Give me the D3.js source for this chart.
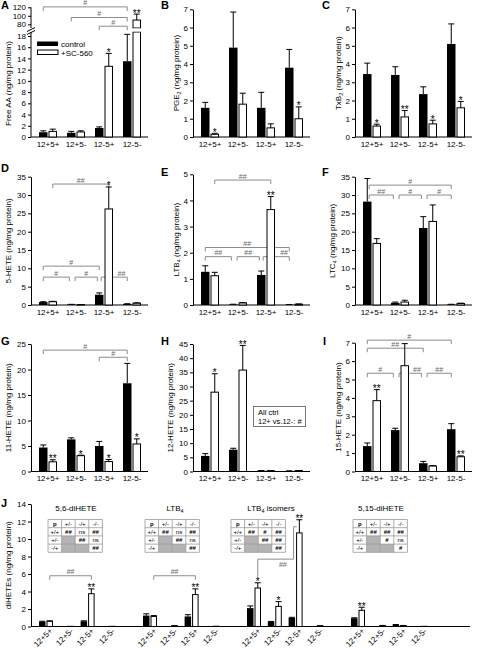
<!DOCTYPE html>
<html><head><meta charset="utf-8">
<script src="https://cdn.jsdelivr.net/npm/d3@7"></script>
<style>
body{margin:0;background:#fff}
text{font-family:"Liberation Sans",Arial,Helvetica,sans-serif}
</style>
</head><body>
<svg id="c" width="477" height="648"></svg>
<script>
// ---------------- DATA ----------------
const categories = ["12+5+", "12+5-", "12-5+", "12-5-"];
const seriesLabels = ["control", "+SC-560"];

// A: Free AA (broken axis)
const aaCtrl = [0.85, 0.75, 1.6, 13.5];
const aaCtrlSem = [0.25, 0.25, 0.2, 4.8];
const aaSc = [1.0, 0.9, 12.6, 90];
const aaScSem = [0.4, 0.2, 2.3, 14];
const aaStars = ["", "", "*", "**"];
const aaLowTicks = [0, 2, 4, 6, 8, 10, 12, 14, 16, 18];
const aaHighTicks = [80, 100, 120];
const aaBrackets = [
  {a: [0, -0.5], b: [3, -0.5], v: 121, l: "#"},
  {a: [1, -0.5], b: [3, -0.5], v: 96, l: "#"},
  {a: [2, -0.5], b: [3, -0.5], v: 75.5, l: "#"}
];

// B: PGE2
const pgeCtrl = [1.6, 4.9, 1.6, 3.8];
const pgeCtrlSem = [0.3, 1.95, 0.85, 1.0];
const pgeSc = [0.15, 1.8, 0.5, 1.0];
const pgeScSem = [0.05, 0.6, 0.22, 0.65];
const pgeStars = ["*", "", "", "*"];
const pgeTicks = [0, 1, 2, 3, 4, 5, 6, 7];

// C: TxB2
const txbCtrl = [3.45, 3.4, 2.35, 5.1];
const txbCtrlSem = [0.6, 0.45, 0.4, 1.1];
const txbSc = [0.6, 1.1, 0.72, 1.6];
const txbScSem = [0.1, 0.35, 0.2, 0.35];
const txbStars = ["*", "**", "*", "*"];
const txbTicks = [0, 1, 2, 3, 4, 5, 6, 7];

// D: 5-HETE
const hete5Ctrl = [0.8, 0.15, 2.8, 0.3];
const hete5CtrlSem = [0.1, 0.03, 0.5, 0.05];
const hete5Sc = [0.9, 0.1, 26.2, 0.5];
const hete5ScSem = [0.1, 0.03, 6.0, 0.1];
const hete5Stars = ["", "", "*", ""];
const hete5Ticks = [0, 5, 10, 15, 20, 25, 30, 35];
const hete5Brackets = [
  {a: [0, 0.5], b: [2, 0.5], v: 33, l: "##"},
  {a: [0, -0.5], b: [2, -0.5], v: 10.6, l: "#"},
  {a: [0, -0.5], b: [1, -0.7], v: 7.6, l: "#"},
  {a: [1, -0.1], b: [2, -0.7], v: 7.6, l: "#"},
  {a: [2, -0.3], b: [3, -0.5], v: 7.6, l: "##", t: 0.78}
];

// E: LTB4
const ltb4Ctrl = [1.27, 0.02, 1.15, 0.01];
const ltb4CtrlSem = [0.23, 0.01, 0.15, 0.01];
const ltb4Sc = [1.12, 0.08, 3.65, 0.03];
const ltb4ScSem = [0.13, 0.01, 0.5, 0.01];
const ltb4Stars = ["", "", "**", ""];
const ltb4Ticks = [0, 1, 2, 3, 4, 5];
const ltb4Brackets = [
  {a: [0, 0.5], b: [2, 0.5], v: 4.78, l: "##"},
  {a: [0, -0.5], b: [3, -0.5], v: 2.2, l: "##"},
  {a: [0, -0.5], b: [1, -0.7], v: 1.85, l: "##"},
  {a: [1, -0.1], b: [2, -0.7], v: 1.85, l: "##"},
  {a: [2, -0.3], b: [3, -0.5], v: 1.85, l: "##", t: 0.8}
];

// F: LTC4
const ltc4Ctrl = [28.2, 0.6, 21, 0.15];
const ltc4CtrlSem = [6.3, 0.2, 3.1, 0.05];
const ltc4Sc = [16.8, 0.8, 22.8, 0.4];
const ltc4ScSem = [1.3, 0.5, 4.5, 0.1];
const ltc4Stars = ["", "", "", ""];
const ltc4Ticks = [0, 5, 10, 15, 20, 25, 30, 35];
const ltc4Brackets = [
  {a: [0, -0.3], b: [3, -0.5], v: 32.7, l: "#"},
  {a: [0, -0.3], b: [1, -0.7], v: 30, l: "##"},
  {a: [1, -0.1], b: [2, -0.7], v: 30, l: "#"},
  {a: [2, -0.1], b: [3, -0.5], v: 30, l: "#"}
];

// G: 11-HETE
const hete11Ctrl = [4.7, 6.3, 5.0, 17.3];
const hete11CtrlSem = [0.5, 0.3, 0.9, 3.9];
const hete11Sc = [1.9, 3.1, 1.95, 5.4];
const hete11ScSem = [0.4, 0.1, 0.4, 1.0];
const hete11Stars = ["**", "*", "*", "*"];
const hete11Ticks = [0, 5, 10, 15, 20, 25];
const hete11Brackets = [
  {a: [0, -0.5], b: [3, -0.5], v: 23.8, l: "#"},
  {a: [2, -0.5], b: [3, -0.5], v: 22.4, l: "#"}
];

// H: 12-HETE
const hete12Ctrl = [5.5, 7.7, 0.3, 0.2];
const hete12CtrlSem = [0.8, 0.5, 0.05, 0.05];
const hete12Sc = [28, 35.8, 0.25, 0.3];
const hete12ScSem = [6.5, 8.7, 0.05, 0.05];
const hete12Stars = ["*", "**", "", ""];
const hete12Ticks = [0, 5, 10, 15, 20, 25, 30, 35, 40, 45];
const hete12Note = ["All ctrl", "12+ vs.12-: #"];

// I: 15-HETE
const hete15Ctrl = [1.38, 2.25, 0.45, 2.3];
const hete15CtrlSem = [0.17, 0.1, 0.1, 0.3];
const hete15Sc = [3.85, 5.75, 0.3, 0.8];
const hete15ScSem = [0.6, 1.2, 0.02, 0.05];
const hete15Stars = ["**", "", "", "**"];
const hete15Ticks = [0, 1, 2, 3, 4, 5, 6, 7];
const hete15Brackets = [
  {a: [0, -0.5], b: [3, -0.5], v: 7.14, l: "#"},
  {a: [0, -0.5], b: [2, -0.5], v: 6.7, l: "##"},
  {a: [0, -0.5], b: [1, -0.7], v: 5.34, l: "#"},
  {a: [1, -0.1], b: [2, -0.7], v: 5.34, l: "##", t: 0.8},
  {a: [2, -0.1], b: [3, -0.5], v: 5.34, l: "##"}
];

// J: diHETEs
const diGroups = ["5,6-diHETE", "LTB4", "LTB4 isomers", "5,15-diHETE"];
const diCtrl = [[0.55, 0.02, 0.6, 0.02], [1.25, 0.02, 1.15, 0.02], [2.1, 0.55, 1.0, 0.05], [0.95, 0.05, 0.2, 0.02]];
const diCtrlSem = [[0.05, 0, 0.05, 0], [0.2, 0, 0.2, 0], [0.25, 0.03, 0.05, 0], [0.05, 0, 0.03, 0]];
const diSc = [[0.6, 0.02, 3.75, 0.02], [1.15, 0.08, 3.65, 0.03], [4.4, 2.3, 10.7, 0.1], [1.85, 0.1, 0.1, 0.02]];
const diScSem = [[0.05, 0, 0.55, 0], [0.1, 0.01, 0.65, 0], [0.6, 0.55, 1.5, 0], [0.35, 0.02, 0.02, 0]];
const diStars = [["", "", "**", ""], ["", "", "**", ""], ["*", "*", "**", ""], ["**", "", "", ""]];
const diTicks = [0, 2, 4, 6, 8, 10, 12, 14];
const pTableHeader = ["p", "+/-", "-/+", "-/-"];
const pTableRows = ["+/+", "+/-", "-/+"];
const pTables = [
  [["##", "ns", "##"], [null, "##", "ns"], [null, null, "##"]],
  [["##", "ns", "##"], [null, "##", "ns"], [null, null, "##"]],
  [["##", "#", "##"], [null, "##", "##"], [null, null, "##"]],
  [["##", "##", "##"], [null, "#", "ns"], [null, null, "#"]]
];
const diBrackets = [
  {g: 0, a: [0, 0.5], b: [2, 0.5], v: 5.8, l: "##"},
  {g: 1, a: [0, 0.5], b: [2, 0.5], v: 5.8, l: "##"}
];

// ---------------- DRAWING ----------------
const svg = d3.select("#c");
const BR = "#8c8c8c";
const BRT = "#666";
const fmt = d3.format("d");

function letter(t, x, y) {
  svg.append("text").attr("x", x).attr("y", y).attr("font-size", 11).attr("font-weight", "bold").text(t);
}
function yTitle(g, x, yc, parts) {
  const t = g.append("text")
    .attr("transform", `translate(${x},${yc}) rotate(-90)`)
    .attr("text-anchor", "middle").attr("font-size", 8);
  let sub = false;
  parts.forEach(p => {
    const isSub = Array.isArray(p);
    const s = t.append("tspan").text(isSub ? p[0] : p);
    if (isSub) s.attr("font-size", 5.5).attr("dy", 1.8);
    else if (sub) s.attr("dy", -1.8);
    sub = isSub;
  });
}
function styleAxis(sel) {
  sel.selectAll("path,line").attr("stroke", "#000").attr("stroke-width", 1);
  sel.selectAll("text").attr("font-size", 8).attr("fill", "#000");
}
function bracket(g, x1, x2, y, label, t) {
  g.append("path").attr("d", `M${x1},${y + 4}V${y}H${x2}V${y + 4}`)
    .attr("fill", "none").attr("stroke", BR).attr("stroke-width", 1);
  g.append("text").attr("x", x1 + (x2 - x1) * (t == null ? 0.5 : t)).attr("y", y - 1.5)
    .attr("text-anchor", "middle").attr("font-size", 7).attr("fill", BRT).text(label);
}
function drawBars(g, cxs, y, base, ctrl, ctrlSem, sc, scSem, stars, bw, skipIdx) {
  const half = bw + 0.5;
  ctrl.forEach((v, i) => {
    const c = cxs[i];
    g.append("rect").attr("x", c - half).attr("y", y(v)).attr("width", bw).attr("height", base - y(v)).attr("fill", "#000");
    if (ctrlSem[i] > 0) {
      const xc = c - half + bw / 2, yt = y(v + ctrlSem[i]);
      g.append("path").attr("d", `M${xc},${y(v)}V${yt}M${xc - 3},${yt}H${xc + 3}`).attr("stroke", "#000").attr("fill", "none");
    }
  });
  sc.forEach((v, i) => {
    if (skipIdx === i) return;
    const c = cxs[i];
    g.append("rect").attr("x", c + 1).attr("y", y(v)).attr("width", bw - 1).attr("height", base - y(v))
      .attr("fill", "#fff").attr("stroke", "#000").attr("stroke-width", 1);
    const xc = c + 0.5 + bw / 2, yt = y(v + scSem[i]);
    if (scSem[i] > 0)
      g.append("path").attr("d", `M${xc},${y(v)}V${yt}M${xc - 3},${yt}H${xc + 3}`).attr("stroke", "#000").attr("fill", "none");
    if (stars[i]) g.append("text").attr("x", xc).attr("y", yt + 2.5).attr("text-anchor", "middle").attr("font-size", 10).attr("fill", "#000").text(stars[i]);
  });
}

const BW = 8.5;
function panel(o) {
  const g = svg.append("g");
  const x = d3.scaleBand().domain(categories).range([o.ax + 3, o.ax + 115]);
  const cxs = categories.map(c => x(c) + x.bandwidth() / 2);
  const y = o.y || d3.scaleLinear().domain([0, o.max]).range([o.base, o.top]);
  const bx = (ab) => cxs[ab[0]] + ab[1] * 9.5;
  if (!o.customAxis) {
    const ax = g.append("g").attr("transform", `translate(${o.ax},0)`)
      .call(d3.axisLeft(y).tickValues(o.ticks).tickFormat(fmt).tickSize(3).tickPadding(2).tickSizeOuter(0));
    styleAxis(ax);
  } else o.customAxis(g);
  g.append("line").attr("x1", o.ax).attr("x2", o.ax + 117).attr("y1", o.base).attr("y2", o.base).attr("stroke", "#000");
  categories.forEach((c, i) => g.append("text").attr("x", cxs[i]).attr("y", o.base + 9.5)
    .attr("text-anchor", "middle").attr("font-size", 8).text(c));
  yTitle(g, o.ax - o.tdx, (o.base + (o.titleTop || o.top)) / 2, o.title);
  (o.brackets || []).forEach(b => bracket(g, bx(b.a), bx(b.b), y(b.v), b.l, b.t));
  drawBars(g, cxs, y, o.base, o.ctrl, o.ctrlSem, o.sc, o.scSem, o.stars, BW, o.skip);
  return {g, cxs, y};
}

// ---- A ----
letter("A", 1, 9);
const aLow = d3.scaleLinear().domain([0, 18]).range([137, 36]);
const aHigh = d3.scaleLinear().domain([80, 120]).range([24.3, 7.3]);
const yA = v => v <= 19 ? aLow(v) : aHigh(v);
const A = panel({
  ax: 31, base: 137, top: 36, y: yA, tdx: 20, titleTop: 30,
  title: ["Free AA (ng/mg protein)"],
  ctrl: aaCtrl, ctrlSem: aaCtrlSem, sc: aaSc, scSem: aaScSem, stars: aaStars, brackets: aaBrackets, skip: 3,
  customAxis: g => {
    const a1 = g.append("g").attr("transform", "translate(31,0)")
      .call(d3.axisLeft(aLow).tickValues(aaLowTicks).tickFormat(fmt).tickSize(3).tickPadding(2).tickSizeOuter(0));
    a1.select(".domain").attr("d", `M0,137V32`);
    styleAxis(a1);
    const a2 = g.append("g").attr("transform", "translate(31,0)")
      .call(d3.axisLeft(aHigh).tickValues(aaHighTicks).tickFormat(fmt).tickSize(3).tickPadding(2).tickSizeOuter(0));
    a2.select(".domain").attr("d", `M0,28V7.3`);
    styleAxis(a2);
    g.append("path").attr("d", "M27,31.5L35,27.5M27,34.5L35,30.5").attr("stroke", "#000").attr("fill", "none");
  }
});
{
  const c = A.cxs[3], v = aaSc[3], yt = aHigh(v + aaScSem[3]);
  A.g.append("rect").attr("x", c + 1).attr("y", 32).attr("width", BW - 1).attr("height", 137 - 32).attr("fill", "#fff").attr("stroke", "#000");
  A.g.append("rect").attr("x", c + 1).attr("y", aHigh(v)).attr("width", BW - 1).attr("height", 28 - aHigh(v)).attr("fill", "#fff").attr("stroke", "#000");
  A.g.append("rect").attr("x", c + 0.5).attr("y", 28.5).attr("width", BW).attr("height", 3).attr("fill", "#fff");
  const xc = c + 0.5 + BW / 2;
  A.g.append("path").attr("d", `M${xc},${aHigh(v)}V${yt}M${xc - 3},${yt}H${xc + 3}`).attr("stroke", "#000").attr("fill", "none");
  A.g.append("text").attr("x", xc).attr("y", yt + 2.5).attr("text-anchor", "middle").attr("font-size", 10).text(aaStars[3]);
  const lg = A.g.append("g");
  lg.append("rect").attr("x", 37).attr("y", 41.5).attr("width", 21).attr("height", 4.5).attr("fill", "#000");
  lg.append("rect").attr("x", 37.5).attr("y", 50).attr("width", 20.5).attr("height", 4.5).attr("fill", "#fff").attr("stroke", "#000");
  lg.append("text").attr("x", 61).attr("y", 46.5).attr("font-size", 8).text(seriesLabels[0]);
  lg.append("text").attr("x", 61).attr("y", 55.5).attr("font-size", 8).text(seriesLabels[1]);
}

// ---- B ----
letter("B", 161, 9);
panel({ax: 193, base: 137, top: 9.3, max: 7, ticks: pgeTicks, tdx: 14, title: ["PGE", ["2"], " (ng/mg protein)"],
  ctrl: pgeCtrl, ctrlSem: pgeCtrlSem, sc: pgeSc, scSem: pgeScSem, stars: pgeStars});
// ---- C ----
letter("C", 322, 9);
panel({ax: 355, base: 137, top: 9.3, max: 7, ticks: txbTicks, tdx: 14, title: ["TxB", ["2"], " (ng/mg protein)"],
  ctrl: txbCtrl, ctrlSem: txbCtrlSem, sc: txbSc, scSem: txbScSem, stars: txbStars});
// ---- D ----
letter("D", 1, 172);
panel({ax: 31, base: 305, top: 176.7, max: 35, ticks: hete5Ticks, tdx: 20, title: ["5-HETE (ng/mg protein)"],
  ctrl: hete5Ctrl, ctrlSem: hete5CtrlSem, sc: hete5Sc, scSem: hete5ScSem, stars: hete5Stars, brackets: hete5Brackets});
// ---- E ----
letter("E", 161, 176);
panel({ax: 193, base: 305, top: 174.3, max: 5, ticks: ltb4Ticks, tdx: 14, title: ["LTB", ["4"], " (ng/mg protein)"],
  ctrl: ltb4Ctrl, ctrlSem: ltb4CtrlSem, sc: ltb4Sc, scSem: ltb4ScSem, stars: ltb4Stars, brackets: ltb4Brackets});
// ---- F ----
letter("F", 322, 176);
panel({ax: 355, base: 305, top: 176.7, max: 35, ticks: ltc4Ticks, tdx: 20, title: ["LTC", ["4"], " (ng/mg protein)"],
  ctrl: ltc4Ctrl, ctrlSem: ltc4CtrlSem, sc: ltc4Sc, scSem: ltc4ScSem, stars: ltc4Stars, brackets: ltc4Brackets});
// ---- G ----
letter("G", 1, 345);
panel({ax: 31, base: 471.5, top: 344, max: 25, ticks: hete11Ticks, tdx: 20, title: ["11-HETE (ng/mg protein)"],
  ctrl: hete11Ctrl, ctrlSem: hete11CtrlSem, sc: hete11Sc, scSem: hete11ScSem, stars: hete11Stars, brackets: hete11Brackets});
// ---- H ----
letter("H", 161, 345);
const H = panel({ax: 193, base: 471.5, top: 344, max: 45, ticks: hete12Ticks, tdx: 20, title: ["12-HETE (ng/mg protein)"],
  ctrl: hete12Ctrl, ctrlSem: hete12CtrlSem, sc: hete12Sc, scSem: hete12ScSem, stars: hete12Stars});
H.g.append("rect").attr("x", 253.5).attr("y", 406.5).attr("width", 52).attr("height", 20).attr("fill", "#fff").attr("stroke", "#777");
H.g.append("text").attr("x", 258).attr("y", 415).attr("font-size", 7.5).text(hete12Note[0]);
H.g.append("text").attr("x", 258).attr("y", 423.5).attr("font-size", 7.5).text(hete12Note[1]);
// ---- I ----
letter("I", 323, 345);
panel({ax: 355, base: 471.5, top: 342.7, max: 7, ticks: hete15Ticks, tdx: 14, title: ["15-HETE (ng/mg protein)"],
  ctrl: hete15Ctrl, ctrlSem: hete15CtrlSem, sc: hete15Sc, scSem: hete15ScSem, stars: hete15Stars, brackets: hete15Brackets});

// ---- J ----
letter("J", 1, 507);
{
  const g = svg.append("g");
  const base = 626.5;
  const y = d3.scaleLinear().domain([0, 14]).range([base, 504]);
  const slots = d3.range(20);
  const x = d3.scaleBand().domain(slots).range([35.6, 451.6]);
  const cx = (gi, ci) => x(gi * 5 + ci) + x.bandwidth() / 2;
  const ax = g.append("g").attr("transform", "translate(31,0)")
    .call(d3.axisLeft(y).tickValues(diTicks).tickFormat(fmt).tickSize(3).tickPadding(2).tickSizeOuter(0));
  styleAxis(ax);
  g.append("line").attr("x1", 31).attr("x2", 470).attr("y1", base).attr("y2", base).attr("stroke", "#000");
  yTitle(g, 11, (base + 504) / 2, ["diHETEs (ng/mg protein)"]);
  const jbw = 6.5;
  diBrackets.forEach(b => {
    const x1 = cx(b.g, b.a[0]) + b.a[1] * 7.5, x2 = cx(b.g, b.b[0]) + b.b[1] * 7.5;
    bracket(g, x1, x2, y(b.v), b.l);
  });
  {
    const x1 = cx(2, 0) + 3.75, x2 = cx(2, 2) - 2;
    g.append("path").attr("d", `M${x1},${y(5.6)}V${y(7.7)}H${x2}V${y(11.4)}H${x2 + 3}`)
      .attr("fill", "none").attr("stroke", BR);
    g.append("text").attr("x", x1 + (x2 - x1) * 0.7).attr("y", y(7.7) + 8).attr("text-anchor", "middle")
      .attr("font-size", 7).attr("fill", BRT).text("##");
  }
  diGroups.forEach((name, gi) => {
    const cxs = categories.map((c, ci) => cx(gi, ci));
    drawBars(g, cxs, y, base, diCtrl[gi], diCtrlSem[gi], diSc[gi], diScSem[gi], diStars[gi], jbw);
    categories.forEach((c, ci) => {
      g.append("text").attr("transform", `translate(${cxs[ci] + 7},${base + 5}) rotate(-45)`)
        .attr("text-anchor", "end").attr("font-size", 8).text(c);
    });
  });
  const titleX = [76, 175, 271, 381];
  diGroups.forEach((name, gi) => {
    const t = g.append("text").attr("x", titleX[gi]).attr("y", 511).attr("text-anchor", "middle").attr("font-size", 8);
    if (name.startsWith("LTB4")) {
      t.append("tspan").text("LTB");
      t.append("tspan").attr("font-size", 5.5).attr("dy", 1.8).text("4");
      const rest = name.slice(4);
      if (rest) t.append("tspan").attr("dy", -1.8).text(rest);
    } else t.text(name);
  });
  const tableX = [48, 145, 231, 353];
  const cw = 13.6, rh = 8.2, ty = 519.5;
  pTables.forEach((tbl, ti) => {
    const tg = g.append("g").attr("transform", `translate(${tableX[ti]},${ty})`);
    tg.append("rect").attr("width", cw * 4).attr("height", rh * 4).attr("fill", "#fff");
    tbl.forEach((row, ri) => row.forEach((cell, ci) => {
      if (cell === null) tg.append("rect").attr("x", cw * (ci + 1)).attr("y", rh * (ri + 1)).attr("width", cw).attr("height", rh).attr("fill", "#b4b4b4");
    }));
    for (let i = 0; i <= 4; i++) {
      tg.append("line").attr("x1", 0).attr("x2", cw * 4).attr("y1", rh * i).attr("y2", rh * i).attr("stroke", "#999").attr("stroke-width", 0.8);
      tg.append("line").attr("y1", 0).attr("y2", rh * 4).attr("x1", cw * i).attr("x2", cw * i).attr("stroke", "#999").attr("stroke-width", 0.8);
    }
    pTableHeader.forEach((h, ci) => tg.append("text").attr("x", cw * ci + cw / 2).attr("y", rh - 2)
      .attr("text-anchor", "middle").attr("font-size", 6).attr("font-weight", ci === 0 ? "bold" : "normal").text(h));
    pTableRows.forEach((r, ri) => tg.append("text").attr("x", cw / 2).attr("y", rh * (ri + 2) - 2)
      .attr("text-anchor", "middle").attr("font-size", 6).text(r));
    tbl.forEach((row, ri) => row.forEach((cell, ci) => {
      if (cell) tg.append("text").attr("x", cw * (ci + 1) + cw / 2).attr("y", rh * (ri + 2) - 2)
        .attr("text-anchor", "middle").attr("font-size", 6).attr("font-weight", cell === "ns" ? "normal" : "bold").text(cell);
    }));
  });
}
</script>
</body></html>
